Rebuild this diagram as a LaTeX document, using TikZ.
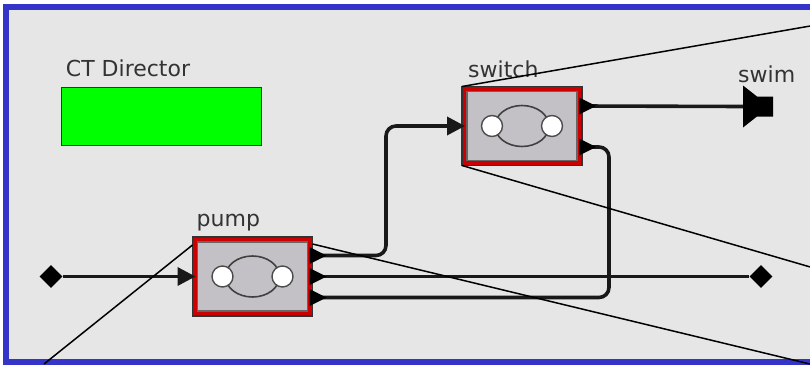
\documentclass[tikz,border=0pt]{standalone}
\usepackage{fontspec}
\setmainfont{DejaVu Sans}
\usetikzlibrary{arrows.meta,positioning,shapes.geometric}
\definecolor{canvas}{HTML}{E6E6E6}
\definecolor{frameblue}{HTML}{3434C8}
\definecolor{dirgreen}{HTML}{00FF00}
\definecolor{portred}{HTML}{CC0000}
\definecolor{actorgrey}{HTML}{C3C1C5}
\definecolor{labelgrey}{HTML}{333333}
\tikzset{
 actor/.style={draw=black!80,line width=1.5pt,fill=portred,minimum width=120pt,minimum height=79pt,inner sep=0pt,outer sep=0pt,
  path picture={
   \draw[fill=actorgrey,draw=black!60,line width=1.2pt] ([shift={(5pt,-5pt)}]path picture bounding box.north west) rectangle ([shift={(-5pt,5pt)}]path picture bounding box.south east);
   \draw[black!75,line width=1.6pt] (path picture bounding box.center) ellipse (27pt and 20.5pt);
   \foreach \d in {-30,30} \draw[fill=white,draw=black!70,line width=1.4pt] ([xshift=\d pt]path picture bounding box.center) circle (10.5pt);
  }},
 wire/.style={line width=3.6pt,black!90},
 guide/.style={line width=1.5pt,black},
 port/.style={shape=diamond,fill=black,minimum size=23pt,inner sep=0pt},
 lbl/.style={anchor=base west,text=labelgrey,inner sep=0pt,font=\fontsize{22}{26}\selectfont}
}
\begin{document}
\begin{tikzpicture}[x=1pt,y=-1pt,>={Triangle[length=18pt,width=18pt]}]
\useasboundingbox (0,0) rectangle (810,364);
\clip (0,0) rectangle (810,364);
\fill[white] (0,0) rectangle (810,364);
\draw[frameblue,fill=canvas,line width=6pt] (6,6.5) rectangle (880,362);
\node[draw=black!80,line width=1.5pt,fill=dirgreen,minimum width=200pt,minimum height=58pt] (director) at (161.5,116.5) {};
\node[lbl] (directorlabel) at ([shift={(5pt,10pt)}]director.north west) {CT Director};
\node[actor] (pump) at (252.5,276.5) {};
\node[actor] (switch) at (522,126) {};
\node[lbl] (pumplabel) at ([shift={(4pt,11pt)}]pump.north west) {pump};
\node[lbl] (switchlabel) at ([shift={(6pt,9pt)}]switch.north west) {switch};
\node[port] (source) at (51,276.5) {};
\node[port] (sink) at (761,276.5) {};
\coordinate (swim) at (743,106.5);
\node[lbl] (swimlabel) at ([shift={(-5pt,24.5pt)}]swim) {swim};
\coordinate (p1) at ([yshift=21pt]pump.east);
\coordinate (p2) at (pump.east);
\coordinate (p3) at ([yshift=-21pt]pump.east);
\coordinate (s1) at ([yshift=20pt]switch.east);
\coordinate (s2) at ([yshift=-21pt]switch.east);
\draw[wire,->] (source) -- ([xshift=3pt]pump.west);
\draw[wire,->,rounded corners=10pt] (p1) -| ([xshift=-76pt]switch.west) -- ([xshift=3pt]switch.west);
\draw[wire] (p2) -- (sink);
\draw[wire,rounded corners=10pt] (p3) -| ([xshift=27pt]s2) -- (s2);
\draw[wire] (s1) -- (swim);
\fill (swim) ++(0,-21) -- ++(14,11) -- ++(16,0) -- ++(0,20) -- ++(-16,0) -- ++(-14,11) -- cycle;
\foreach \c in {p1,p2,p3,s1,s2} \fill (\c) ++(-3,-8.5) -- ++(17,8.5) -- ++(-17,8.5) -- cycle;
\coordinate (ga) at (812,25.7);
\coordinate (gb) at (812,267.5);
\coordinate (gc) at (812,364.5);
\coordinate (gd) at (44,364);
\draw[guide] (switch.north west) -- (ga);
\draw[guide] (switch.south west) -- (gb);
\draw[guide] ([yshift=-7pt]pump.north east) -- (gc);
\draw[guide] ([yshift=-8pt]pump.north west) -- (gd);
\end{tikzpicture}
\end{document}
